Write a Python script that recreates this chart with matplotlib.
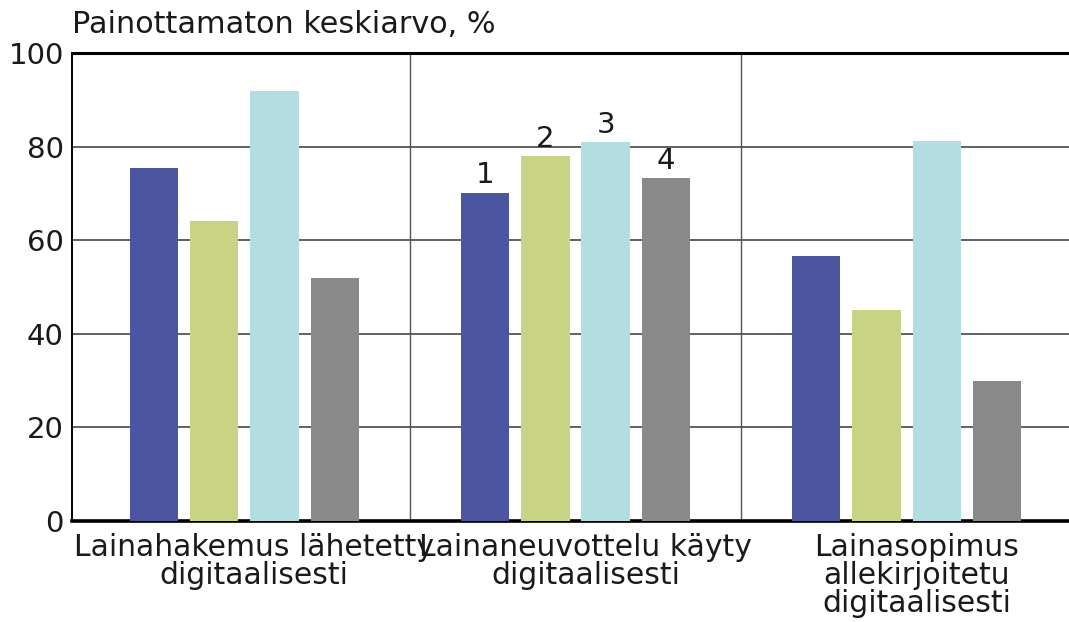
import numpy as np
import matplotlib
matplotlib.use('Agg')
import matplotlib.pyplot as plt

# Ryhmät ja sarjat
categories = ['Lainahakemus lähetetty\ndigitaalisesti',
              'Lainaneuvottelu käyty\ndigitaalisesti',
              'Lainasopimus\nallekirjoitetu\ndigitaalisesti']
series_labels = ['1', '2', '3', '4']
s1 = [75.4, 70.1, 56.6]
s2 = [64.1, 77.9, 45.0]
s3 = [91.9, 80.9, 81.3]
s4 = [51.9, 73.2, 29.9]
yticks = [0, 20, 40, 60, 80, 100]

colors = ['#4b55a0', '#c8d384', '#b3dde0', '#898989']

plt.rcParams['font.family'] = ['DejaVu Sans']

fig = plt.figure(figsize=(10.69, 6.22), dpi=100)
ax = fig.add_axes([0.0674, 0.1624, 0.9326, 0.7524])

x = np.arange(len(categories))
step = 0.182
width = 0.146
for i, vals in enumerate([s1, s2, s3, s4]):
    ax.bar(x + (i - 1.5) * step, vals, width=width, color=colors[i], zorder=3)
    # numerot keskimmäisen ryhmän palkkien päälle
    ax.text(x[1] + (i - 1.5) * step, vals[1] + 0.8, series_labels[i],
            ha='center', va='bottom', fontsize=21, color='#1a1a1a', zorder=4)

ax.set_xlim(-0.52, 2.49)
ax.set_ylim(0, 100)
ax.set_yticks(yticks)
ax.set_xticks(x + 0.03)
ax.set_xticklabels(categories, fontsize=21.5, linespacing=0.95)
ax.tick_params(axis='y', length=0, pad=6, labelsize=21, colors='#1a1a1a')
ax.tick_params(axis='x', length=0, pad=9, colors='#1a1a1a')

# vaakaviivat ja ryhmien erottimet
for yv in yticks[1:-1]:
    ax.axhline(yv, color='#555555', lw=1.3, zorder=1)
for xv in [0.5, 1.5]:
    ax.axvline(xv, color='#555555', lw=1.0, zorder=1)

ax.spines['right'].set_visible(False)
ax.spines['top'].set_linewidth(2.2)
ax.spines['bottom'].set_linewidth(2.6)
ax.spines['left'].set_linewidth(1.4)

ax.text(0.0, 1.03, 'Painottamaton keskiarvo, %', transform=ax.transAxes,
        ha='left', va='bottom', fontsize=21.8, color='#1a1a1a')

fig.savefig('out.png', dpi=100)
